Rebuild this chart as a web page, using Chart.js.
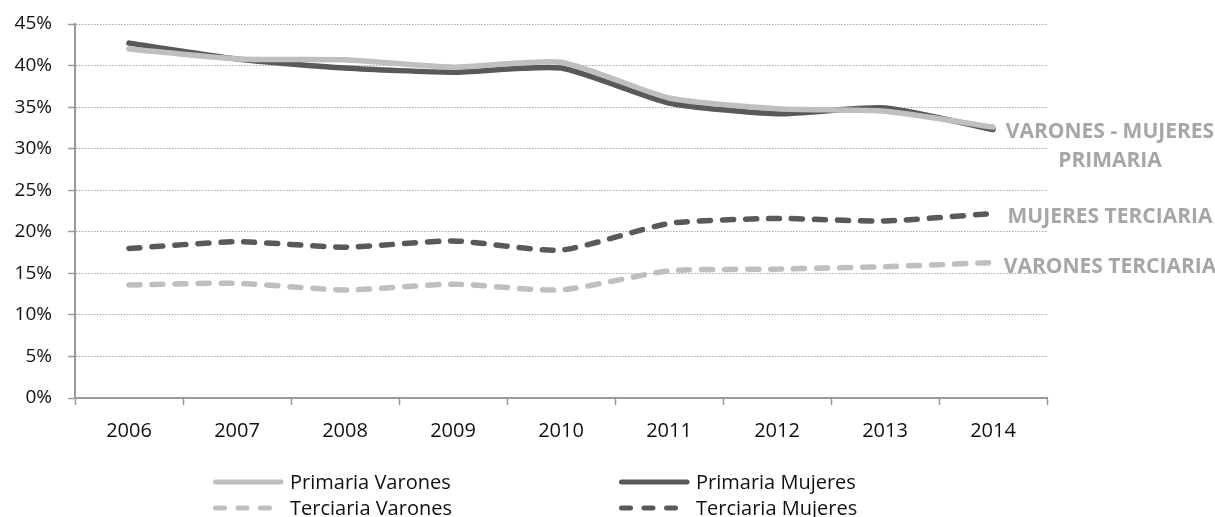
<!DOCTYPE html>
<html lang="es">
<head>
<meta charset="UTF-8">
<title>Primaria y Terciaria por sexo 2006-2014</title>
<script src="https://cdn.jsdelivr.net/npm/chart.js"></script>
<style>
    html, body { margin: 0; padding: 0; background: #fff; }
    #wrap { width: 1215px; height: 517px; }
</style>
</head>
<body>
<div id="wrap"><canvas id="chart" width="1215" height="517"></canvas></div>
<script>
const years = ['2006', '2007', '2008', '2009', '2010', '2011', '2012', '2013', '2014'];
const primariaVarones  = [42.0, 40.8, 40.7, 39.8, 40.4, 36.1, 34.8, 34.5, 32.6];
const primariaMujeres  = [42.7, 40.8, 39.7, 39.2, 39.7, 35.5, 34.2, 34.9, 32.3];
const terciariaVarones = [13.6, 13.8, 13.0, 13.7, 13.0, 15.3, 15.5, 15.8, 16.3];
const terciariaMujeres = [18.0, 18.8, 18.15, 18.9, 17.8, 21.0, 21.6, 21.3, 22.2];
const yMax = 45, yStep = 5;
const sideTags = [['VARONES - MUJERES', 'PRIMARIA'], ['MUJERES TERCIARIA'], ['VARONES TERCIARIA']];

const LIGHT = '#bfbfbf', DARK = '#595959', AXIS = '#9a9a9a', TEXT = '#111111';
const DASH = [11, 12];

// Etiquetas grises a la derecha del gráfico
const tagsPlugin = {
    id: 'tags',
    afterDraw(chart) {
        const ctx = chart.ctx;
        const cx = chart.chartArea.right + 63;
        const baselines = [[138, 167], [223], [273]];
        ctx.save();
        ctx.fillStyle = '#a6a6a6';
        ctx.font = 'bold 21px "Open Sans"';
        ctx.textAlign = 'center';
        ctx.textBaseline = 'alphabetic';
        sideTags.forEach((lines, i) => {
            lines.forEach((t, j) => ctx.fillText(t, cx, baselines[i][j]));
        });
        ctx.restore();
    }
};

// Leyenda en dos columnas
const legendPlugin = {
    id: 'legendGrid',
    afterDraw(chart) {
        const ctx = chart.ctx;
        const cols = [213, 619], rows = [482, 508];
        chart.data.datasets.forEach((ds, i) => {
            const x = cols[i % 2], y = rows[Math.floor(i / 2)];
            ctx.save();
            ctx.strokeStyle = ds.borderColor;
            ctx.lineWidth = 5;
            ctx.lineCap = 'round';
            ctx.beginPath();
            if (ds.borderDash) {
                ctx.setLineDash([9, 13.5]);
                ctx.moveTo(x + 2.5, y);
                ctx.lineTo(x + 58, y);
            } else {
                ctx.moveTo(x + 2.5, y);
                ctx.lineTo(x + 68, y);
            }
            ctx.stroke();
            ctx.setLineDash([]);
            ctx.fillStyle = TEXT;
            ctx.font = '20px "Open Sans"';
            ctx.textBaseline = 'middle';
            ctx.fillText(ds.label, x + 77, y + 1);
            ctx.restore();
        });
    }
};

const lineStyle = { borderWidth: 5.5, pointRadius: 0, tension: 0.2, fill: false, borderCapStyle: 'round', borderJoinStyle: 'round' };

new Chart(document.getElementById('chart'), {
    type: 'line',
    data: {
        labels: years,
        datasets: [
            { label: 'Primaria Varones', data: primariaVarones, borderColor: LIGHT, ...lineStyle },
            { label: 'Primaria Mujeres', data: primariaMujeres, borderColor: DARK, ...lineStyle },
            { label: 'Terciaria Varones', data: terciariaVarones, borderColor: LIGHT, borderDash: DASH, ...lineStyle },
            { label: 'Terciaria Mujeres', data: terciariaMujeres, borderColor: DARK, borderDash: DASH, ...lineStyle }
        ]
    },
    options: {
        responsive: false,
        animation: false,
        devicePixelRatio: 1,
        layout: { padding: { left: 0, top: 24, right: 168, bottom: 0 } },
        plugins: { legend: { display: false }, tooltip: { enabled: false } },
        scales: {
            x: {
                offset: true,
                grid: { offset: true, drawOnChartArea: false, drawTicks: true, tickLength: 7, tickColor: AXIS, tickWidth: 1.5 },
                border: { display: true, color: AXIS, width: 2 },
                ticks: { color: TEXT, font: { family: 'Open Sans', size: 20 }, padding: 14, maxRotation: 0 },
                afterFit(scale) { scale.height = 119; }
            },
            y: {
                min: 0, max: yMax,
                grid: { color: '#a6a6a6', lineWidth: 1, drawTicks: true, tickLength: 7, tickColor: AXIS, tickWidth: 1.5, tickBorderDash: [] },
                border: { display: true, color: AXIS, width: 2, dash: [1.5, 1.5] },
                ticks: { stepSize: yStep, color: TEXT, font: { family: 'Open Sans', size: 19 }, padding: 16,
                         callback: v => v + '%' },
                afterFit(scale) { scale.width = 75; scale.paddingTop = 0; scale.paddingBottom = 0; }
            }
        }
    },
    plugins: [tagsPlugin, legendPlugin]
});
</script>
</body>
</html>
